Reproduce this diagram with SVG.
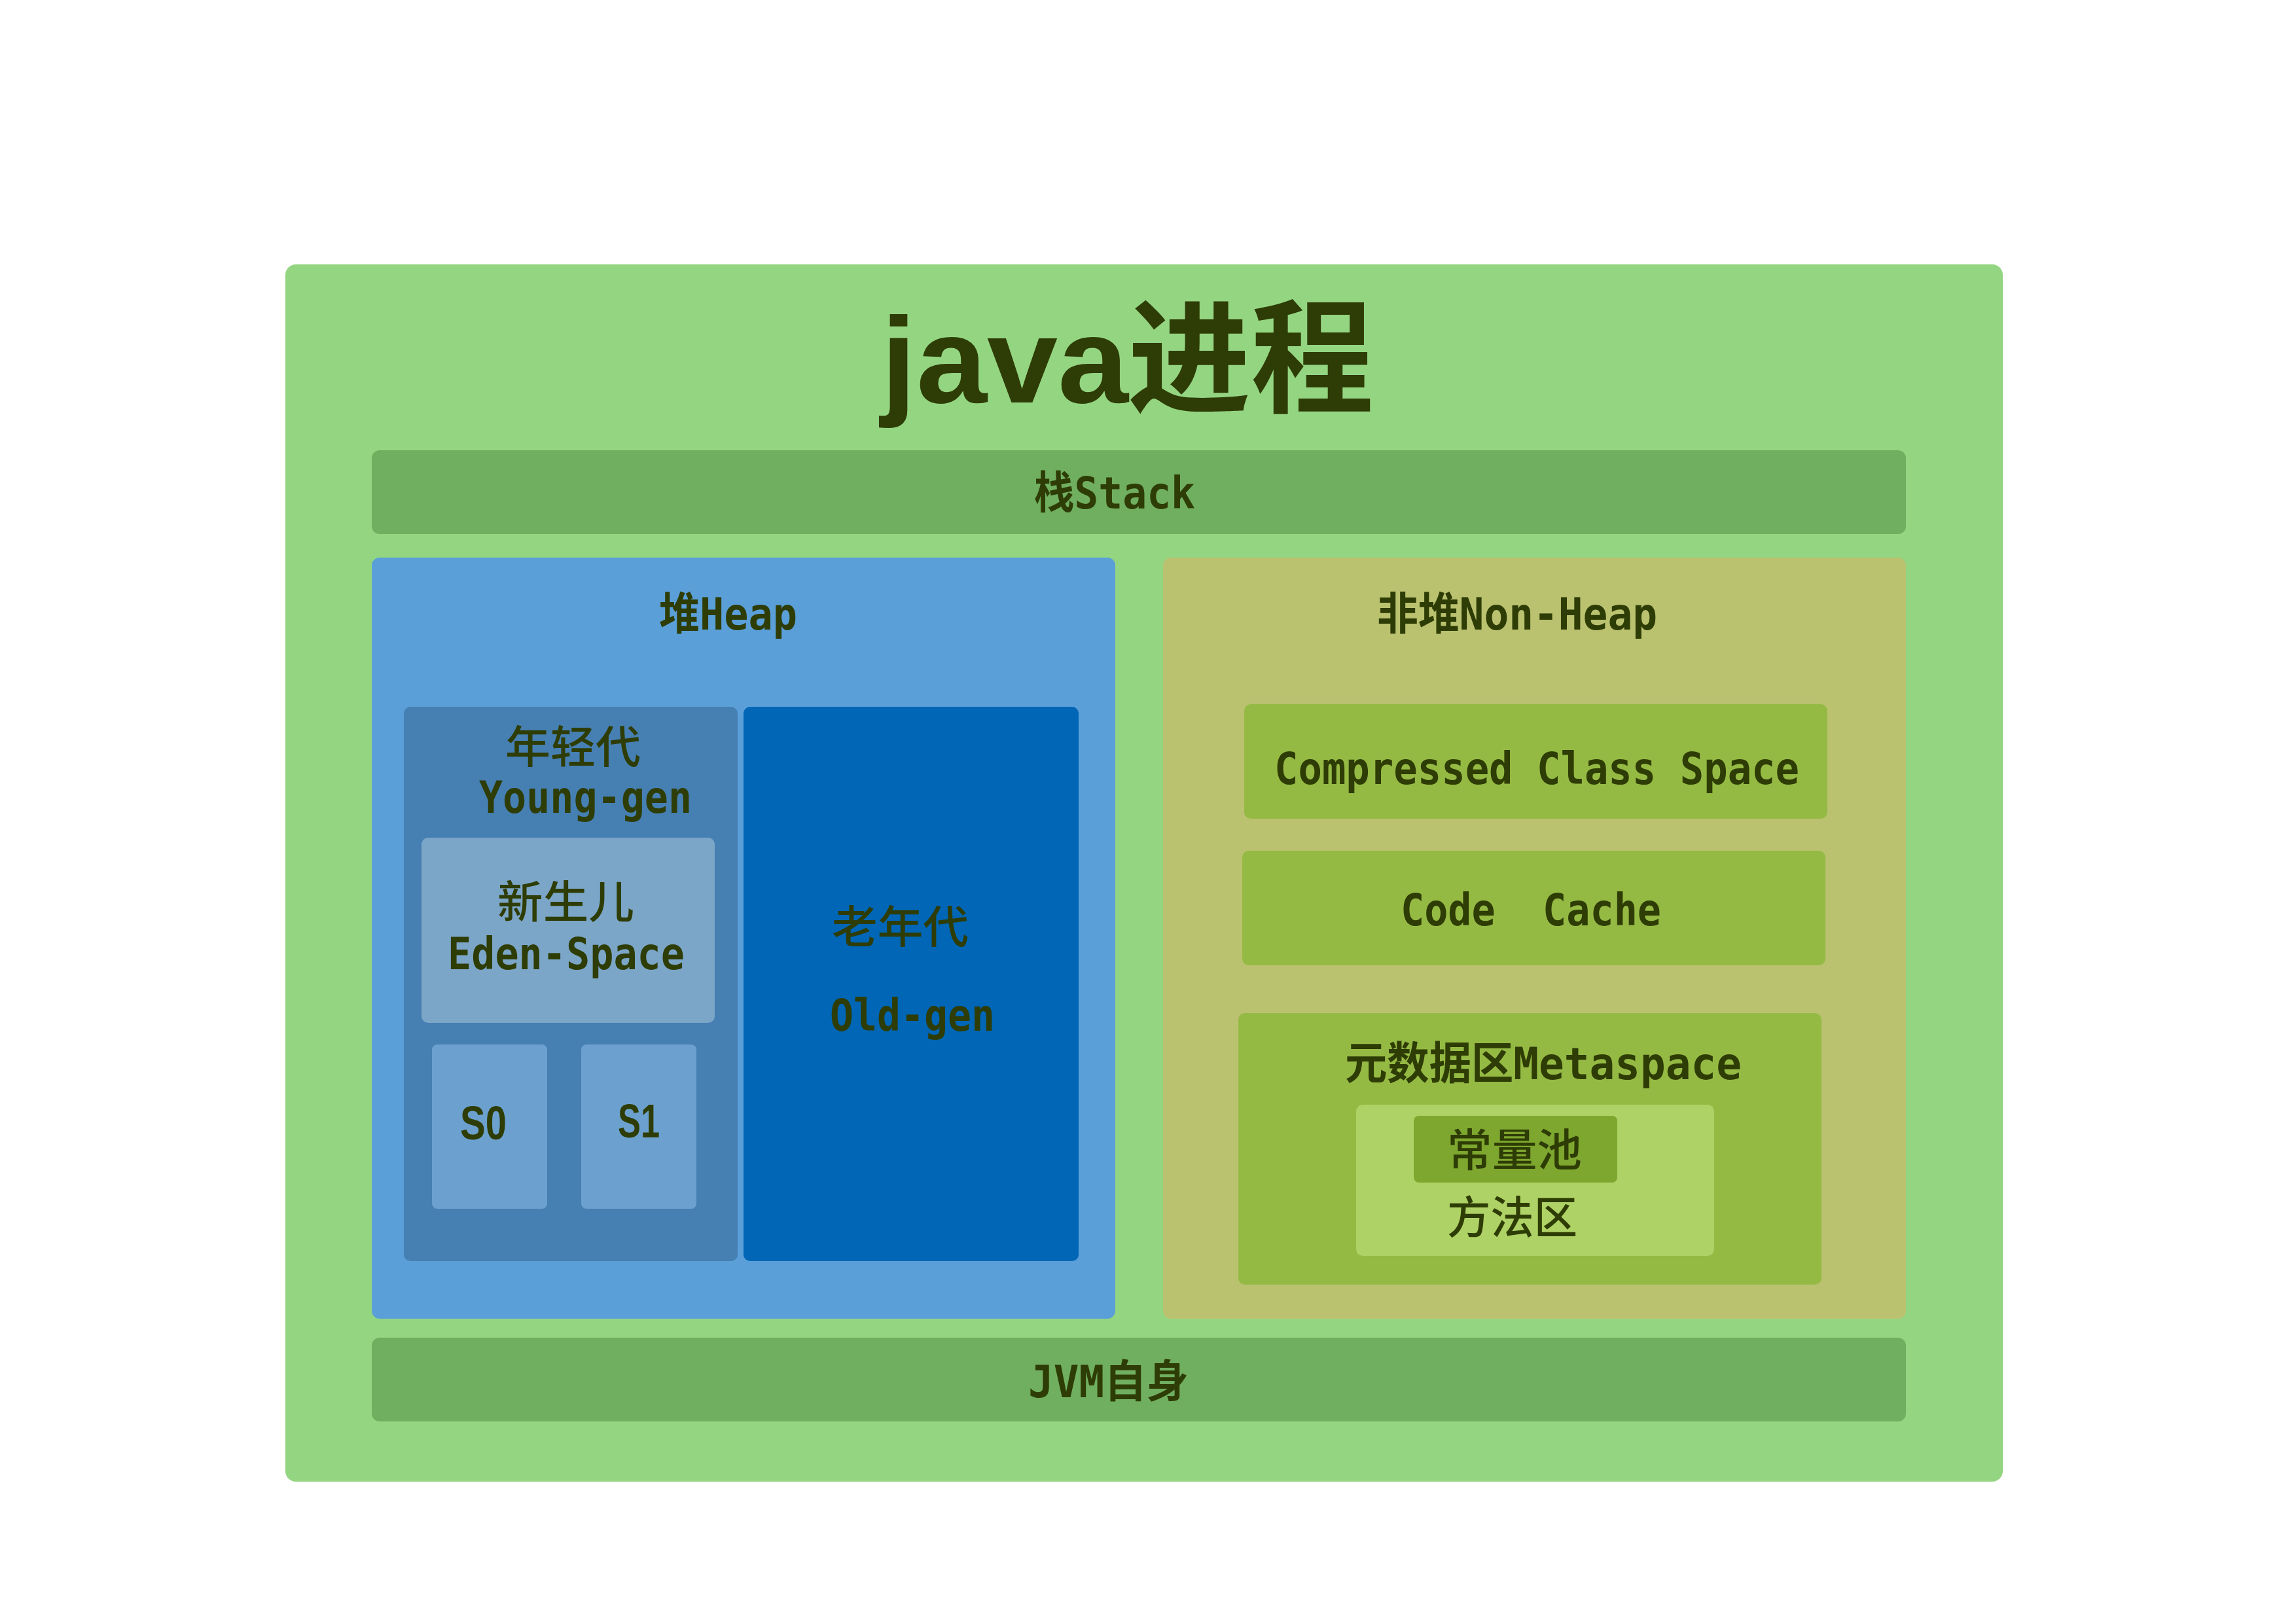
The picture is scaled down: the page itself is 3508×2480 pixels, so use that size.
<svg xmlns="http://www.w3.org/2000/svg" width="3508" height="2480" viewBox="0 0 3508 2480">
<style>
.t{font-family:"DejaVu Sans Mono","Noto Sans CJK SC",monospace;font-weight:bold;font-size:68px;fill:#2E3C05}
.c{font-family:"Noto Sans CJK SC",sans-serif;font-weight:500;font-size:68px;fill:#2E3C05}
.s{font-family:"Liberation Sans",sans-serif;font-weight:bold;font-size:72px;fill:#2E3C05}
</style>
<rect width="3508" height="2480" fill="#FFFFFF"/>
<g id="java-process">
<rect x="436" y="404" width="2624" height="1860" rx="16" fill="#94D582"/>
<text x="1346" y="615" font-family="Liberation Sans, sans-serif" font-weight="bold" font-size="185" fill="#2E3C05" textLength="378" lengthAdjust="spacingAndGlyphs">java</text>
<text x="1723" y="615" font-family="Noto Sans CJK SC, sans-serif" font-weight="bold" font-size="188" fill="#2E3C05" textLength="376" lengthAdjust="spacingAndGlyphs">进程</text>
</g>
<g id="stack">
<rect x="568" y="688" width="2344" height="128" rx="12" fill="#70AF60"/>
<text class="t" x="1580" y="777" textLength="246" lengthAdjust="spacingAndGlyphs">栈Stack</text>
</g>
<g id="heap">
<rect x="568" y="852" width="1136" height="1163" rx="12" fill="#5A9FD8"/>
<text class="t" x="1007" y="962" textLength="211" lengthAdjust="spacingAndGlyphs">堆Heap</text>
</g>
<g id="young-gen">
<rect x="617" y="1080" width="510" height="847" rx="10" fill="#467FB2"/>
<text class="c" x="772" y="1166" textLength="207" lengthAdjust="spacingAndGlyphs">年轻代</text>
<text class="t" x="732" y="1242" textLength="325" lengthAdjust="spacingAndGlyphs">Young-gen</text>
</g>
<g id="eden">
<rect x="644" y="1280" width="448" height="283" rx="10" fill="#7BA6C8"/>
<text class="c" x="760" y="1403" textLength="209" lengthAdjust="spacingAndGlyphs">新生儿</text>
<text class="t" x="684" y="1481" textLength="362" lengthAdjust="spacingAndGlyphs">Eden-Space</text>
</g>
<g id="s0">
<rect x="660" y="1596" width="176" height="251" rx="8" fill="#6CA1CF"/>
<text class="s" x="703" y="1741" textLength="71" lengthAdjust="spacingAndGlyphs">S0</text>
</g>
<g id="s1">
<rect x="888" y="1596" width="176" height="251" rx="8" fill="#6CA1CF"/>
<text class="s" x="944" y="1738" textLength="64" lengthAdjust="spacingAndGlyphs">S1</text>
</g>
<g id="old-gen">
<rect x="1136" y="1080" width="512" height="847" rx="10" fill="#0066B5"/>
<text class="c" x="1271" y="1441" textLength="209" lengthAdjust="spacingAndGlyphs">老年代</text>
<text class="t" x="1268" y="1575" textLength="252" lengthAdjust="spacingAndGlyphs">Old-gen</text>
</g>
<g id="non-heap">
<rect x="1777" y="852" width="1135" height="1163" rx="12" fill="#BAC270"/>
<text class="t" x="2104" y="962" textLength="428" lengthAdjust="spacingAndGlyphs">非堆Non-Heap</text>
</g>
<g id="compressed-class-space">
<rect x="1901" y="1076" width="891" height="175" rx="10" fill="#95BA44"/>
<text class="t" x="1947" y="1198" textLength="802" lengthAdjust="spacingAndGlyphs">Compressed Class Space</text>
</g>
<g id="code-cache">
<rect x="1898" y="1300" width="891" height="175" rx="10" fill="#95BA44"/>
<text class="t" x="2140" y="1414" textLength="398" lengthAdjust="spacingAndGlyphs" xml:space="preserve">Code  Cache</text>
</g>
<g id="metaspace">
<rect x="1892" y="1548" width="891" height="415" rx="10" fill="#95BA44"/>
<text class="t" x="2055" y="1649" textLength="606" lengthAdjust="spacingAndGlyphs">元数据区Metaspace</text>
</g>
<g id="method-area">
<rect x="2072" y="1688" width="547" height="231" rx="10" fill="#AED265"/>
<text class="c" x="2211" y="1885" textLength="199" lengthAdjust="spacingAndGlyphs">方法区</text>
</g>
<g id="constant-pool">
<rect x="2160" y="1705" width="311" height="102" rx="8" fill="#7EA72F"/>
<text class="c" x="2211" y="1782" textLength="206" lengthAdjust="spacingAndGlyphs">常量池</text>
</g>
<g id="jvm-self">
<rect x="568" y="2044" width="2344" height="128" rx="12" fill="#70AF60"/>
<text class="t" x="1571" y="2135" textLength="245" lengthAdjust="spacingAndGlyphs">JVM自身</text>
</g>
<g id="connectors"/>
</svg>
